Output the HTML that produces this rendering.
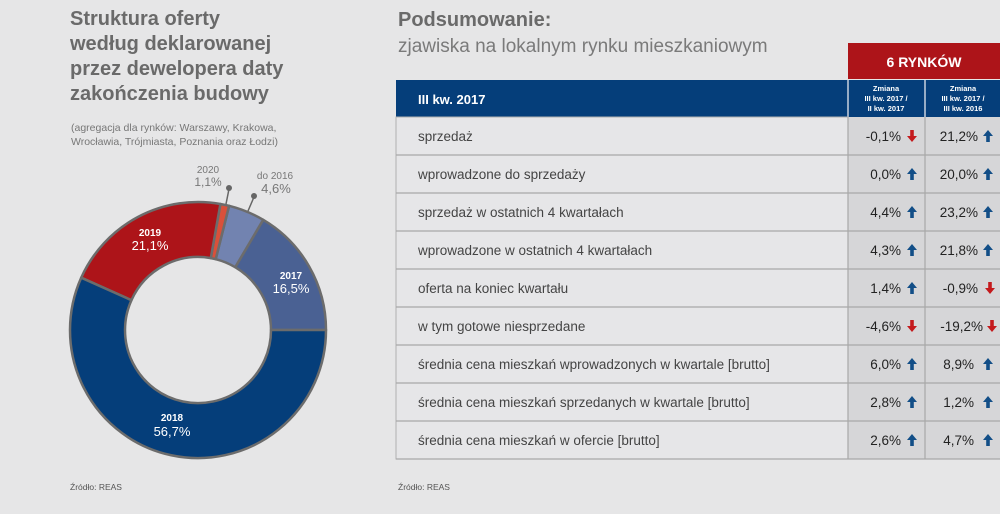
<!DOCTYPE html>
<html><head><meta charset="utf-8"><style>
body{margin:0;background:#e6e6e7;}
svg{display:block;font-family:"Liberation Sans",sans-serif;}
</style></head><body>
<svg width="1000" height="514" viewBox="0 0 1000 514">
<rect width="1000" height="514" fill="#e6e6e7"/>
<g font-weight="bold" font-size="20" fill="#6a6a6a">
<text x="70" y="25">Struktura oferty</text>
<text x="70" y="50">według deklarowanej</text>
<text x="70" y="75">przez dewelopera daty</text>
<text x="70" y="100">zakończenia budowy</text>
</g>
<g font-size="10.5" fill="#777">
<text x="71" y="131">(agregacja dla rynków: Warszawy, Krakowa,</text>
<text x="71" y="145">Wrocławia, Trójmiasta, Poznania oraz Łodzi)</text>
</g>
<g stroke="#6c6c6c" stroke-width="2.5" stroke-linejoin="round">
<path d="M326,330 A128,128 0 0 0 263.2,219.8 L235.2,267.2 A73,73 0 0 1 271,330 Z" fill="#4a6193"/>
<path d="M263.2,219.8 A128,128 0 0 0 229.1,205.8 L215.7,259.2 A73,73 0 0 1 235.2,267.2 Z" fill="#7283b0"/>
<path d="M229.1,205.8 A128,128 0 0 0 220.4,204.0 L210.8,258.1 A73,73 0 0 1 215.7,259.2 Z" fill="#d9503a"/>
<path d="M220.4,204.0 A128,128 0 0 0 81.2,277.7 L131.4,300.2 A73,73 0 0 1 210.8,258.1 Z" fill="#ad1419"/>
<path d="M81.2,277.7 A128,128 0 1 0 326,330 L271,330 A73,73 0 1 1 131.4,300.2 Z" fill="#053e7a"/>
</g>
<g stroke="#666" stroke-width="1.5"><line x1="229" y1="189" x2="226" y2="204"/><line x1="254" y1="197" x2="248" y2="211"/></g>
<circle cx="229" cy="188" r="3" fill="#666"/><circle cx="254" cy="196" r="3" fill="#666"/>
<g text-anchor="middle" fill="#fff">
<text x="150" y="236" font-size="10" font-weight="bold">2019</text>
<text x="150" y="250" font-size="13">21,1%</text>
<text x="291" y="279" font-size="10" font-weight="bold">2017</text>
<text x="291" y="293" font-size="13">16,5%</text>
<text x="172" y="421" font-size="10" font-weight="bold">2018</text>
<text x="172" y="436" font-size="13">56,7%</text>
</g>
<g text-anchor="middle" fill="#777">
<text x="208" y="173" font-size="10">2020</text>
<text x="208" y="186" font-size="12">1,1%</text>
<text x="275" y="179" font-size="10">do 2016</text>
<text x="276" y="193" font-size="13">4,6%</text>
</g>
<text x="70" y="490" font-size="8.5" fill="#555">Źródło: REAS</text>

<text x="398" y="26" font-size="20" font-weight="bold" fill="#6a6a6a">Podsumowanie:</text>
<text x="398" y="52" font-size="19" fill="#7a7a7a">zjawiska na lokalnym rynku mieszkaniowym</text>
<rect x="848" y="43" width="152" height="36" fill="#ad1419"/>
<text x="924" y="67" font-size="14" font-weight="bold" fill="#fff" text-anchor="middle">6 RYNKÓW</text>
<rect x="396" y="80" width="604" height="37" fill="#053e7a"/>
<line x1="848" y1="80" x2="848" y2="117" stroke="#c8d0de" stroke-width="1.5"/>
<line x1="925" y1="80" x2="925" y2="117" stroke="#c8d0de" stroke-width="1.5"/>
<text x="418" y="104" font-size="13" font-weight="bold" fill="#fff">III kw. 2017</text>
<g font-size="7.5" font-weight="bold" fill="#fff" text-anchor="middle">
<text x="886" y="91">Zmiana</text><text x="886" y="101">III kw. 2017 /</text><text x="886" y="111">II kw. 2017</text>
<text x="963" y="91">Zmiana</text><text x="963" y="101">III kw. 2017 /</text><text x="963" y="111">III kw. 2016</text>
</g>
<rect x="396" y="117" width="452" height="342" fill="#e6e6e8" stroke="#b0b0b0"/>
<rect x="848" y="117" width="152" height="342" fill="#d6d6d8"/>
<g stroke="#a8a8a8" stroke-width="1.2">
<line x1="848" y1="117" x2="848" y2="459"/><line x1="925" y1="117" x2="925" y2="459"/>
<line x1="396" y1="155" x2="1000" y2="155"/><line x1="396" y1="193" x2="1000" y2="193"/>
<line x1="396" y1="231" x2="1000" y2="231"/><line x1="396" y1="269" x2="1000" y2="269"/>
<line x1="396" y1="307" x2="1000" y2="307"/><line x1="396" y1="345" x2="1000" y2="345"/>
<line x1="396" y1="383" x2="1000" y2="383"/><line x1="396" y1="421" x2="1000" y2="421"/>
<line x1="396" y1="459" x2="1000" y2="459"/>
</g>
<defs>
<path id="up" d="M0,-6 L5,0 L1.8,0 L1.8,6 L-1.8,6 L-1.8,0 L-5,0 Z" fill="#124e87"/>
<path id="dn" d="M0,6 L5,0 L1.8,0 L1.8,-6 L-1.8,-6 L-1.8,0 L-5,0 Z" fill="#c41a1d"/>
</defs>
<g font-size="13.5" fill="#444">
<text x="418" y="141">sprzedaż</text>
<text x="418" y="179">wprowadzone do sprzedaży</text>
<text x="418" y="217">sprzedaż w ostatnich 4 kwartałach</text>
<text x="418" y="255">wprowadzone w ostatnich 4 kwartałach</text>
<text x="418" y="293">oferta na koniec kwartału</text>
<text x="418" y="331">w tym gotowe niesprzedane</text>
<text x="418" y="369">średnia cena mieszkań wprowadzonych w kwartale [brutto]</text>
<text x="418" y="407">średnia cena mieszkań sprzedanych w kwartale [brutto]</text>
<text x="418" y="445">średnia cena mieszkań w ofercie [brutto]</text>
</g>
<g font-size="13.5" fill="#222" text-anchor="end">
<text x="901" y="141">-0,1%</text><text x="978" y="141">21,2%</text>
<text x="901" y="179">0,0%</text><text x="978" y="179">20,0%</text>
<text x="901" y="217">4,4%</text><text x="978" y="217">23,2%</text>
<text x="901" y="255">4,3%</text><text x="978" y="255">21,8%</text>
<text x="901" y="293">1,4%</text><text x="978" y="293">-0,9%</text>
<text x="901" y="331">-4,6%</text><text x="983" y="331">-19,2%</text>
<text x="901" y="369">6,0%</text><text x="974" y="369">8,9%</text>
<text x="901" y="407">2,8%</text><text x="974" y="407">1,2%</text>
<text x="901" y="445">2,6%</text><text x="974" y="445">4,7%</text>
</g>
<use href="#dn" x="912" y="136"/><use href="#up" x="988" y="136"/>
<use href="#up" x="912" y="174"/><use href="#up" x="988" y="174"/>
<use href="#up" x="912" y="212"/><use href="#up" x="988" y="212"/>
<use href="#up" x="912" y="250"/><use href="#up" x="988" y="250"/>
<use href="#up" x="912" y="288"/><use href="#dn" x="990" y="288"/>
<use href="#dn" x="912" y="326"/><use href="#dn" x="992" y="326"/>
<use href="#up" x="912" y="364"/><use href="#up" x="988" y="364"/>
<use href="#up" x="912" y="402"/><use href="#up" x="988" y="402"/>
<use href="#up" x="912" y="440"/><use href="#up" x="988" y="440"/>
<text x="398" y="490" font-size="8.5" fill="#555">Źródło: REAS</text>
</svg>
</body></html>
